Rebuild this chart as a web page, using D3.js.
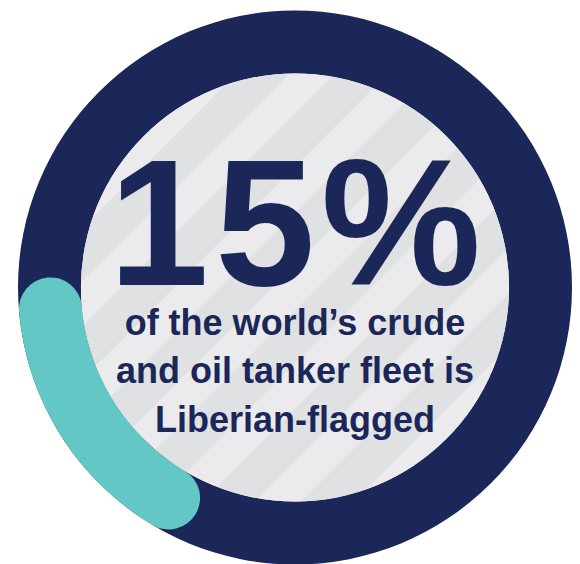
<!DOCTYPE html>
<meta charset="utf-8">
<script src="https://d3js.org/d3.v7.min.js"></script>
<style>
  body { margin: 0; background: #fff; }
</style>
<svg id="chart" width="580" height="564"></svg>
<script>
  // share of the fleet shown by the teal arc
  const share = [0.15];
  const bigLabel = ["15%"];
  const subLines = ["of the world\u2019s crude", "and oil tanker fleet is", "Liberian-flagged"];

  const width = 580, height = 564;
  const cx = 295, cy = 287.5;
  const rOuter = 277, rInner = 214;
  const navy = "#1c2759", teal = "#63c7c5";

  const svg = d3.select("#chart");

  // diagonal stripes for the inner disc
  const defs = svg.append("defs");
  const pat = defs.append("pattern")
    .attr("id", "stripes")
    .attr("patternUnits", "userSpaceOnUse")
    .attr("width", 69.65)
    .attr("height", 200)
    .attr("patternTransform", "rotate(45)");
  pat.append("rect").attr("width", 69.65).attr("height", 200).attr("fill", "#ebebed");
  pat.append("rect").attr("x", 10.25).attr("width", 37.5).attr("height", 200).attr("fill", "#e0e1e3");

  const g = svg.append("g").attr("transform", `translate(${cx},${cy})`);

  // ring
  g.append("path")
    .attr("d", d3.arc().innerRadius(rInner).outerRadius(rOuter).startAngle(0).endAngle(2 * Math.PI)())
    .attr("fill", navy);

  // inner disc (pattern in page coordinates)
  svg.append("circle")
    .attr("cx", cx).attr("cy", cy).attr("r", rInner)
    .attr("fill", "url(#stripes)");

  // teal share arc, round caps
  const mid = (rInner + rOuter) / 2;
  const a0 = 211 * Math.PI / 180;
  const angle = d3.scaleLinear().domain([0, 1]).range([a0, a0 + 2 * Math.PI]);
  const p = d3.path();
  const toXY = a => [mid * Math.sin(a), -mid * Math.cos(a)];
  const s = toXY(angle(0));
  p.moveTo(s[0], s[1]);
  // canvas-style angles: 0 at 3 o'clock
  p.arc(0, 0, mid, angle(0) - Math.PI / 2, angle(share[0]) - Math.PI / 2, false);
  g.append("path")
    .attr("d", p.toString())
    .attr("fill", "none")
    .attr("stroke", teal)
    .attr("stroke-width", rOuter - rInner)
    .attr("stroke-linecap", "round");

  // labels
  svg.append("text")
    .attr("x", cx + 3).attr("y", 285)
    .attr("text-anchor", "middle")
    .attr("font-family", "Liberation Sans, Arial, sans-serif")
    .attr("font-weight", "bold")
    .attr("font-size", 180)
    .attr("letter-spacing", 6)
    .attr("fill", navy)
    .text(bigLabel[0]);

  svg.append("g").selectAll("text")
    .data(subLines)
    .join("text")
    .attr("x", cx)
    .attr("y", (d, i) => 335 + i * 48.3)
    .attr("text-anchor", "middle")
    .attr("font-family", "Liberation Sans, Arial, sans-serif")
    .attr("font-weight", "bold")
    .attr("font-size", 36)
    .attr("fill", navy)
    .text(d => d);
</script>
